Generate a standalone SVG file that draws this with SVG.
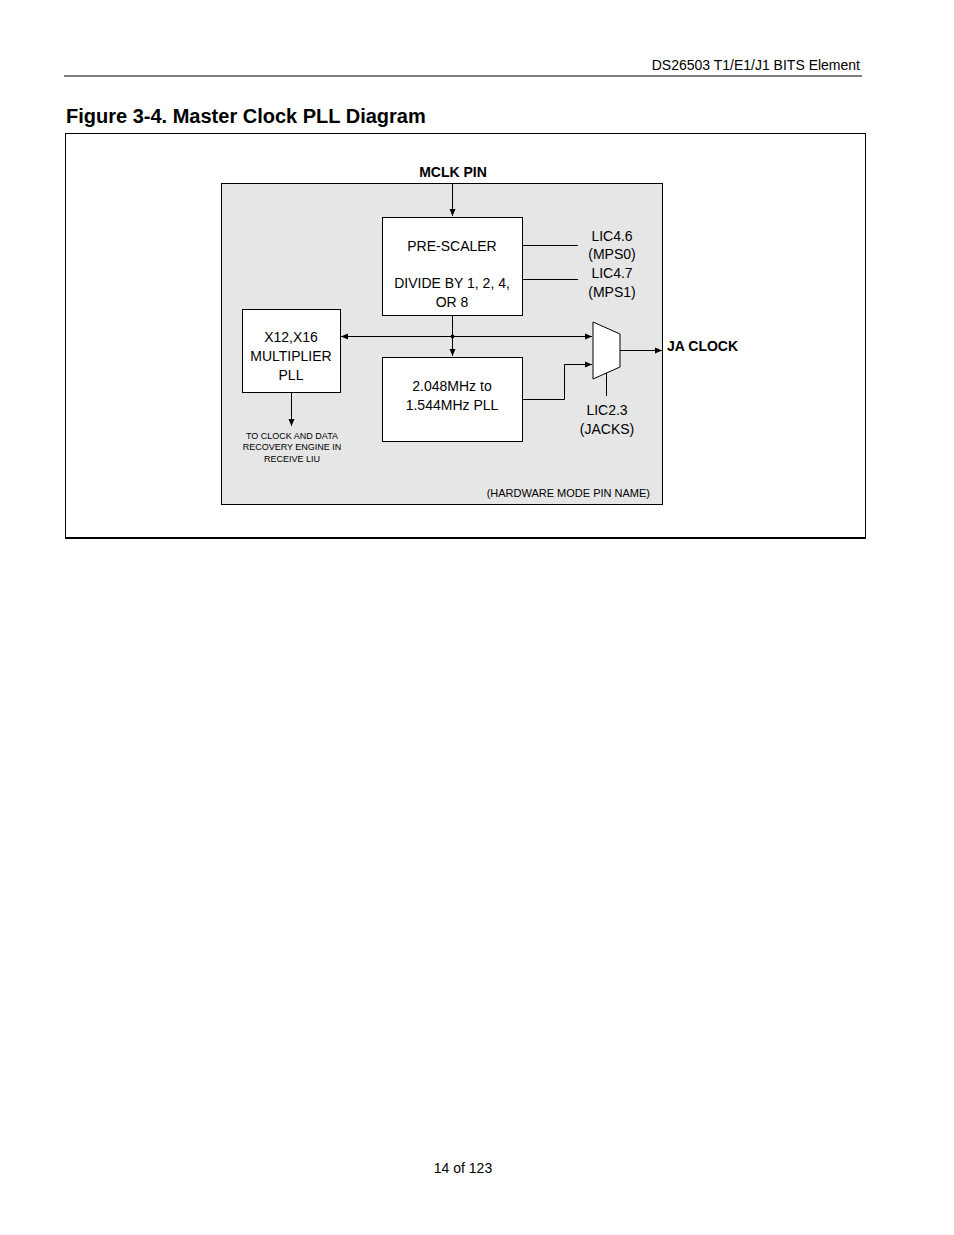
<svg xmlns="http://www.w3.org/2000/svg" width="954" height="1235" viewBox="0 0 954 1235">
<style>
text{font-family:"Liberation Sans",Arial,sans-serif;fill:#000}
.t{font-size:14px;text-anchor:middle}
.b{font-weight:bold}
.s{font-size:9px;text-anchor:middle}
.box{fill:#fff;stroke:#000;stroke-width:1}
.ln{fill:none;stroke:#000;stroke-width:1}
</style>
<defs><marker id="a" markerWidth="8" markerHeight="8" refX="7" refY="4" orient="auto" markerUnits="userSpaceOnUse"><path d="M0,1 L7,4 L0,7 Z" fill="#000"/></marker></defs>
<rect width="954" height="1235" fill="#fff"/>
<text x="860" y="70" font-size="14" text-anchor="end">DS26503 T1/E1/J1 BITS Element</text>
<line x1="64" y1="76" x2="862" y2="76" stroke="#000"/>
<text x="66" y="123" font-size="20" class="b">Figure 3-4. Master Clock PLL Diagram</text>
<rect x="65.5" y="133.5" width="800" height="404" fill="none" stroke="#000"/>
<line x1="65" y1="538" x2="866" y2="538" stroke="#000" stroke-width="2"/>
<rect x="221.5" y="183.5" width="441" height="321" fill="#e6e6e7" stroke="#000"/>
<text x="453" y="177" class="t b">MCLK PIN</text>
<g id="connectors">
<line class="ln" x1="452.5" y1="183" x2="452.5" y2="216" marker-end="url(#a)"/>
<line class="ln" x1="452.5" y1="315" x2="452.5" y2="356" marker-end="url(#a)"/>
<line class="ln" x1="452" y1="336.5" x2="341" y2="336.5" marker-end="url(#a)"/>
<line class="ln" x1="452" y1="336.5" x2="592" y2="336.5" marker-end="url(#a)"/>
<circle cx="452.5" cy="336.5" r="2"/>
<polyline class="ln" points="522,399.5 564.5,399.5 564.5,364.5 592,364.5" marker-end="url(#a)"/>
<line class="ln" x1="620" y1="350.5" x2="662" y2="350.5" marker-end="url(#a)"/>
<line class="ln" x1="522" y1="245.5" x2="578" y2="245.5"/>
<line class="ln" x1="522" y1="279.5" x2="578" y2="279.5"/>
<line class="ln" x1="606.5" y1="372" x2="606.5" y2="396"/>
<line class="ln" x1="291.5" y1="392" x2="291.5" y2="426" marker-end="url(#a)"/>
</g>
<g id="prescaler"><rect class="box" x="382.5" y="217.5" width="140" height="98"/>
<text x="452" y="251" class="t">PRE-SCALER</text><text x="452" y="288" class="t">DIVIDE BY 1, 2, 4,</text><text x="452" y="307" class="t">OR 8</text></g>
<g id="multiplier"><rect class="box" x="242.5" y="309.5" width="98" height="83"/>
<text x="291" y="342" class="t">X12,X16</text><text x="291" y="361" class="t">MULTIPLIER</text><text x="291" y="380" class="t">PLL</text></g>
<g id="pll"><rect class="box" x="382.5" y="357.5" width="140" height="84"/>
<text x="452" y="391" class="t">2.048MHz to</text><text x="452" y="410" class="t">1.544MHz PLL</text></g>
<g id="mux"><polygon class="box" points="593,322 620,334 620,367 593,379"/></g>
<text x="612" y="241" class="t">LIC4.6</text><text x="612" y="259" class="t">(MPS0)</text>
<text x="612" y="278" class="t">LIC4.7</text><text x="612" y="297" class="t">(MPS1)</text>
<text x="607" y="415" class="t">LIC2.3</text><text x="607" y="434" class="t">(JACKS)</text>
<text x="667" y="351" font-size="14" class="b">JA CLOCK</text>
<text x="292" y="439" class="s">TO CLOCK AND DATA</text><text x="292" y="450" class="s">RECOVERY ENGINE IN</text><text x="292" y="462" class="s">RECEIVE LIU</text>
<text x="650" y="497" font-size="11" text-anchor="end">(HARDWARE MODE PIN NAME)</text>
<text x="463" y="1173" class="t">14 of 123</text>
</svg>
